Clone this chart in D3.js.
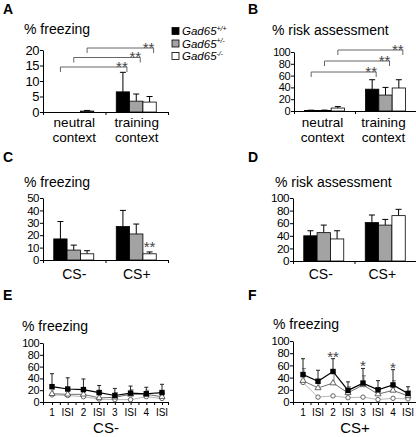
<!DOCTYPE html>
<html><head><meta charset="utf-8">
<script src="https://cdn.jsdelivr.net/npm/d3@7"></script>
<style>body{margin:0;background:#fff} svg{display:block;font-family:"Liberation Sans",Arial,sans-serif}</style>
</head><body><svg id="c" width="416" height="437"></svg>
<script>
// ---------------- data ----------------
const genotypes = ["+/+", "+/-", "-/-"];
const contextCats = ["neutral", "training"];
const contextLabels = [["neutral", "context"], ["training", "context"]];
const csCats = ["CS-", "CS+"];
// values [category][genotype]
const freezeContext = [[0, 0, 0.3], [6.5, 3.5, 3.2]];
const freezeContextErr = [[0, 0, 0.2], [6.3, 2.3, 1.8]];
const riskContext = [[1, 1, 5], [37, 27, 39]];
const riskContextErr = [[0.4, 0.5, 2.5], [16, 13, 14]];
const freezeCS = [[17, 8, 5], [27, 21, 5]];
const freezeCSErr = [[14, 4, 2.5], [13, 8, 1.5]];
const riskCS = [[40, 45, 35], [61, 57, 72]];
const riskCSErr = [[8, 12, 13], [12, 9, 10]];
// time course (series by genotype)
const trialLabels = ["1", "ISI", "2", "ISI", "3", "ISI", "4", "ISI"];
const csMinusFreeze = [
  [26, 22, 21, 16, 11, 15, 14, 16],
  [14, 13, 13, 7, 8, 13, 13, 9],
  [12, 11, 9, 5, 4, 4, 9, 6]];
const csMinusErr = [
  [22, 19, 18, 12, 12, 12, 11, 14],
  [8, 7, 7, 6, 8, 8, 7, 6],
  [0, 0, 0, 0, 0, 0, 0, 0]];
const csPlusFreeze = [
  [45, 34, 50, 19, 31, 20, 28, 14],
  [35, 23, 31, 15, 28, 13, 19, 10],
  [32, 8, 10, 7, 8, 4, 6, 5]];
const csPlusErr = [
  [26, 18, 21, 14, 24, 15, 25, 11],
  [20, 14, 18, 10, 15, 10, 16, 8],
  [0, 0, 0, 0, 0, 0, 0, 0]];
const csPlusStars = ["", "", "**", "", "*", "", "*", ""];
const panelLetters = ["A", "B", "C", "D", "E", "F"];

// ---------------- drawing ----------------
const svg = d3.select("#c");
const fills = ["#000", "#a3a3a3", "#fff"];
const FONT = "Liberation Sans, Arial, sans-serif";

function text(x, y, s, size, anchor, extra) {
  const t = svg.append("text").attr("x", x).attr("y", y).attr("font-size", size)
    .attr("text-anchor", anchor || "start").attr("fill", "#000").text(s);
  if (extra) extra(t);
  return t;
}

function yAxis(y, x0, ticks) {
  const ax = d3.axisLeft(y).tickValues(ticks).tickSize(3).tickSizeOuter(0).tickPadding(1);
  const g = svg.append("g").attr("transform", `translate(${x0},0)`).call(ax);
  const spacing = Math.abs(y(ticks[0]) - y(ticks[1]));
  const fs = Math.min(13, spacing * 0.93);
  g.selectAll("text").attr("font-size", fs).attr("font-family", FONT).attr("fill", "#000")
    .attr("letter-spacing", -0.5);
  g.selectAll("line,path").attr("stroke", "#000");
  return g;
}

function xAxisLine(x0, x1, y0, tickPositions) {
  const xl = d3.scaleLinear().domain([x0, x1]).range([x0, x1]);
  const ax = d3.axisBottom(xl).tickValues(tickPositions).tickSize(3).tickSizeOuter(0).tickFormat("");
  const g = svg.append("g").attr("transform", `translate(0,${y0})`).call(ax);
  g.selectAll("line,path").attr("stroke", "#000");
}

function barPanel(o) {
  const y = d3.scaleLinear().domain([0, o.max]).range([o.y0, o.y1]);
  const xb = d3.scaleBand().domain(o.cats).range([o.x0, o.x1]);
  yAxis(y, o.x0, d3.range(0, o.max + 0.001, o.step));
  xAxisLine(o.x0, o.x1, o.y0, [o.x0, xb(o.cats[1]), o.x1]);
  const gw = 40;
  o.cats.forEach((c, ci) => {
    const cx = xb(c) + xb.bandwidth() / 2 + (o.shift || 0);
    const xg = d3.scaleBand().domain(genotypes).range([cx - gw / 2, cx + gw / 2]);
    genotypes.forEach((gt, gi) => {
      const v = o.vals[ci][gi], e = o.errs[ci][gi];
      const bx = xg(gt), bw = xg.bandwidth();
      if (e > 0) {
        const xm = bx + bw / 2;
        svg.append("line").attr("x1", xm).attr("x2", xm).attr("y1", y(v)).attr("y2", y(v + e))
          .attr("stroke", "#000").attr("stroke-width", 1);
        svg.append("line").attr("x1", xm - 3).attr("x2", xm + 3).attr("y1", y(v + e)).attr("y2", y(v + e))
          .attr("stroke", "#000").attr("stroke-width", 1);
      }
      if (v > 0) {
        svg.append("rect").attr("x", bx).attr("y", y(v)).attr("width", bw).attr("height", y(0) - y(v))
          .attr("fill", fills[gi]).attr("stroke", "#000").attr("stroke-width", 0.8);
      }
    });
  });
  if (o.brackets) {
    genotypes.forEach((gt, gi) => {
      const c0 = xb(o.cats[0]) + xb.bandwidth() / 2 + (o.shift || 0);
      const c1 = xb(o.cats[1]) + xb.bandwidth() / 2 + (o.shift || 0);
      const xa = d3.scaleBand().domain(genotypes).range([c0 - gw / 2, c0 + gw / 2]);
      const xc = d3.scaleBand().domain(genotypes).range([c1 - gw / 2, c1 + gw / 2]);
      const xl = xa(gt) + xa.bandwidth() / 2;
      const xr = xc(gt) + xc.bandwidth() / 2 + 4;
      const ly = o.bracketTop + (2 - gi) * o.bracketStep;
      svg.append("path").attr("d", `M${xl},${ly + 5}V${ly}H${xr}V${ly + 5}`)
        .attr("fill", "none").attr("stroke", "#666").attr("stroke-width", 1);
      text(xr - 5, ly + 4.5, "**", 15, "middle", t => t.attr("fill", "#444"));
    });
  }
  return { y, xb };
}

// Panel letters
[[3, 14], [248, 14], [3, 162], [248, 162], [3, 300], [248, 300]].forEach((p, i) =>
  text(p[0], p[1], panelLetters[i], 14, "start", t => t.attr("font-weight", "bold")));

// A
text(24, 34, "% freezing", 14);
const A = barPanel({ x0: 43, x1: 168, y0: 112, y1: 50, max: 20, step: 5, cats: contextCats,
  vals: freezeContext, errs: freezeContextErr, brackets: true, bracketTop: 48, bracketStep: 9.5, shift: -0.5 });
contextLabels.forEach((ls, i) => ls.forEach((l, j) =>
  text(A.xb(contextCats[i]) + A.xb.bandwidth() / 2, 127 + j * 14.5, l, 13.5, "middle")));

// Legend
genotypes.forEach((gt, i) => {
  const yy = 31.5 + i * 12.5;
  svg.append("rect").attr("x", 172).attr("y", yy - 4).attr("width", 7).attr("height", 7)
    .attr("fill", fills[i]).attr("stroke", "#000").attr("stroke-width", 0.8);
  const t = svg.append("text").attr("x", 182).attr("y", yy + 3.5).attr("font-size", 11.5).attr("font-style", "italic");
  t.append("tspan").text("Gad65");
  t.append("tspan").attr("dy", -4.5).attr("font-size", 7).text(gt);
});

// B
text(272, 35, "% risk assessment", 14);
const B = barPanel({ x0: 294, x1: 416, y0: 111, y1: 52, max: 100, step: 20, cats: contextCats,
  vals: riskContext, errs: riskContextErr, brackets: true, bracketTop: 50, bracketStep: 11, shift: 0 });
contextLabels.forEach((ls, i) => ls.forEach((l, j) =>
  text(B.xb(contextCats[i]) + B.xb.bandwidth() / 2 - 2, 127 + j * 14.5, l, 13.5, "middle")));

// C
text(24, 187, "% freezing", 14);
const C = barPanel({ x0: 43, x1: 168, y0: 260, y1: 198, max: 50, step: 10, cats: csCats,
  vals: freezeCS, errs: freezeCSErr, shift: -0.5 });
csCats.forEach(c => text(C.xb(c) + C.xb.bandwidth() / 2, 279, c, 14, "middle"));
{
  const cx = C.xb("CS+") + C.xb.bandwidth() / 2 - 0.5;
  text(cx + 20 - 6.7, 252, "**", 15, "middle", t => t.attr("fill", "#444"));
}

// D
text(275, 187, "% risk assessment", 14);
const D = barPanel({ x0: 293, x1: 416, y0: 261, y1: 198, max: 100, step: 20, cats: csCats,
  vals: riskCS, errs: riskCSErr, shift: 0 });
csCats.forEach(c => text(D.xb(c) + D.xb.bandwidth() / 2 - 3, 279, c, 14, "middle"));

// Line panels
function linePanel(o) {
  const y = d3.scaleLinear().domain([0, 100]).range([o.y0, o.y1]);
  const x = d3.scalePoint().domain(d3.range(trialLabels.length)).range([o.p0, o.p1]);
  yAxis(y, o.x0, d3.range(0, 101, 20));
  const tp = [o.x0];
  trialLabels.forEach((l, i) => {
    tp.push(x(i));
    if (i < trialLabels.length - 1) tp.push((x(i) + x(i + 1)) / 2);
  });
  tp.push(o.x1);
  xAxisLine(o.x0, o.x1, o.y0, tp);
  trialLabels.forEach((l, i) => text(x(i), 416, l, 10, "middle"));
  const lineCols = ["#000", "#6e6e6e", "#b8b8b8"];
  const errCols = ["#222", "#888", "#aaa"];
  [2, 1, 0].forEach(si => {
    svg.append("path").datum(o.vals[si])
      .attr("d", d3.line().x((d, i) => x(i)).y(d => y(d)))
      .attr("fill", "none").attr("stroke", lineCols[si]).attr("stroke-width", si === 0 ? 1.2 : 1);
    o.vals[si].forEach((v, i) => {
      const e = o.errs[si][i];
      if (e > 0) {
        const xm = x(i) + (si === 0 ? 0 : 1);
        svg.append("line").attr("x1", xm).attr("x2", xm).attr("y1", y(v)).attr("y2", y(v + e))
          .attr("stroke", errCols[si]).attr("stroke-width", 1);
        svg.append("line").attr("x1", xm - 2).attr("x2", xm + 2).attr("y1", y(v + e)).attr("y2", y(v + e))
          .attr("stroke", errCols[si]).attr("stroke-width", 1);
      }
    });
  });
  [2, 1, 0].forEach(si => {
    o.vals[si].forEach((v, i) => {
      if (si === 0) {
        svg.append("rect").attr("x", x(i) - 2.7).attr("y", y(v) - 2.7).attr("width", 5.4).attr("height", 5.4)
          .attr("fill", "#000");
      } else if (si === 1) {
        svg.append("path").attr("d", d3.symbol(d3.symbolTriangle, 16)())
          .attr("transform", `translate(${x(i)},${y(v)})`)
          .attr("fill", "#fff").attr("stroke", "#555").attr("stroke-width", 0.9);
      } else {
        svg.append("circle").attr("cx", x(i)).attr("cy", y(v)).attr("r", 2.2)
          .attr("fill", "#fff").attr("stroke", "#555").attr("stroke-width", 0.9);
      }
    });
  });
  if (o.stars) o.stars.forEach((s, i) => {
    if (s) text(x(i), y(o.vals[0][i] + o.errs[0][i]) + 3, s, 15, "middle", t => t.attr("fill", "#444"));
  });
  return { x, y };
}

// E
text(22, 331, "% freezing", 14);
linePanel({ x0: 43, x1: 168, y0: 402, y1: 343, p0: 52, p1: 162, vals: csMinusFreeze, errs: csMinusErr });
text(106, 433, "CS-", 15, "middle");

// F
text(273, 329, "% freezing", 14);
linePanel({ x0: 293, x1: 416, y0: 402, y1: 341, p0: 303, p1: 408, vals: csPlusFreeze, errs: csPlusErr, stars: csPlusStars });
text(355, 433, "CS+", 15, "middle");
</script></body></html>
